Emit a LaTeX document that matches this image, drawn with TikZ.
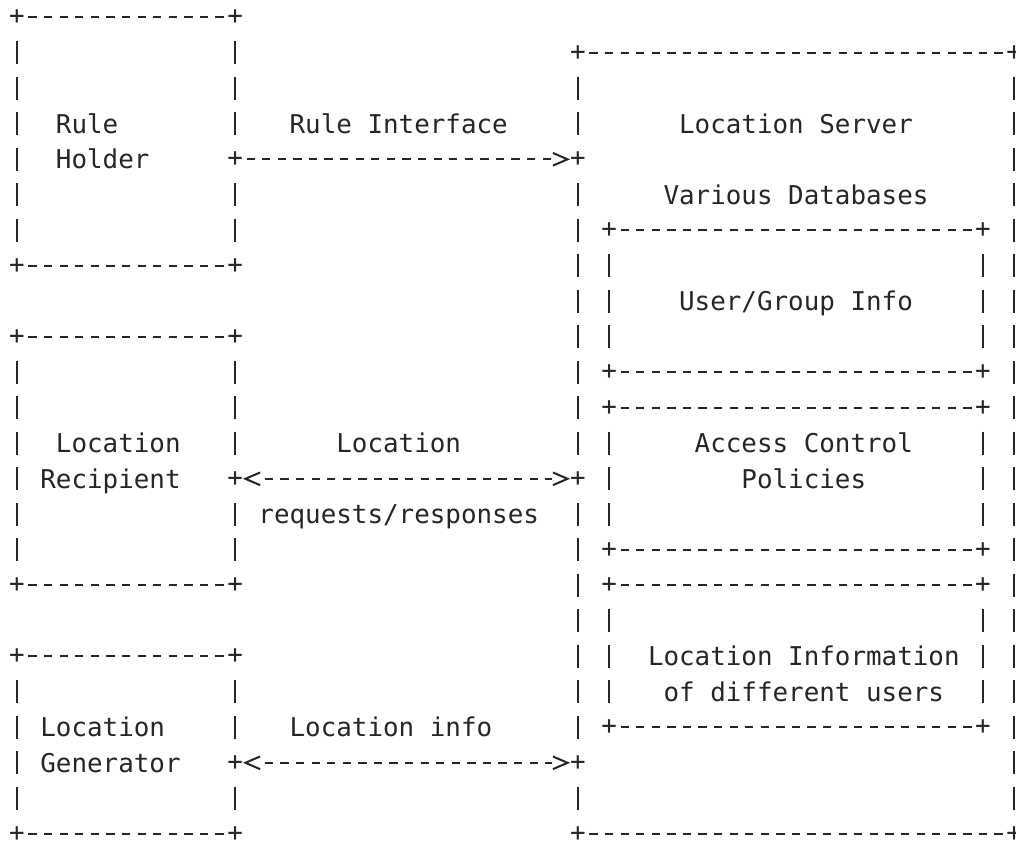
\documentclass[tikz,border=0pt]{standalone}
\usepackage{fontspec}
\newfontfamily\asciifont{DejaVu Sans Mono}
\usetikzlibrary{arrows.meta,fit}
\definecolor{ink}{HTML}{262626}

\tikzset{
  box/.style={inner sep=0pt, outer sep=0pt},
  hdash/.style={draw=ink, line width=1.5pt, dash pattern=on 6.2pt off 5.485pt, dash phase=8.93pt},
  vdash/.style={draw=ink, line width=1.7pt, dash pattern=on 17.5pt off 9.125pt, dash phase=22.06pt},
  hline/.style={hdash, shorten <=5.8425pt, shorten >=5.8425pt},
  vline/.style={vdash, shorten <=13.3125pt, shorten >=13.3125pt},
  cell/.style={fill=white, text=ink, inner sep=0pt, outer sep=0pt, minimum width=11.685pt, minimum height=26.625pt},
  lbl/.style={anchor=base west, inner sep=0pt, outer sep=0pt, yshift=-7.2pt, text=ink}
}

\begin{document}
\begin{tikzpicture}[x=11.685pt, y=-26.625pt, font=\asciifont\fontsize{19.41pt}{26.625pt}\selectfont]

\useasboundingbox (-1.091,-0.487) rectangle (64.12,23.26);

% ========================
% BOXES (corners in columns / rows)
% ========================

\node[box, fit={(0,0) (14,7)}] (holder) {};
\node[box, fit={(0,9) (14,16)}] (recipient) {};
\node[box, fit={(0,18) (14,23)}] (generator) {};

\node[box, fit={(36,1) (64,23)}] (server) {};
\node[box, fit={(38,6) (62,10)}] (users) {};
\node[box, fit={(38,11) (62,15)}] (policies) {};
\node[box, fit={(38,16) (62,20)}] (locinfo) {};

% borders
\foreach \b in {holder,recipient,generator,server,users,policies,locinfo} {
  \draw[hline] (\b.north west) -- (\b.north east);
  \draw[hline] (\b.south west) -- (\b.south east);
  \draw[vline] (\b.north west) -- (\b.south west);
  \draw[vline] (\b.north east) -- (\b.south east);
}

% corner marks
\foreach \b in {holder,recipient,generator,server,users,policies,locinfo} {
  \foreach \c/\n in {north west/nw, north east/ne, south west/sw, south east/se}
    \node[cell] (\b\n) at (\b.\c) {+};
}

% ========================
% INTERFACES
% ========================

\node[cell] (ruleL) at (14,4) {+};
\node[cell] (ruleR) at (36,4) {+};
\node[cell] (reqL) at (14,13) {+};
\node[cell] (reqR) at (36,13) {+};
\node[cell] (infoL) at (14,21) {+};
\node[cell] (infoR) at (36,21) {+};

\draw[hdash, -{. Straight Barb[length=11pt, width=9.5pt]}] (ruleL) -- (ruleR);
\draw[hdash, {Straight Barb[length=11pt, width=9.5pt] .}-{. Straight Barb[length=11pt, width=9.5pt]}] (reqL) -- (reqR);
\draw[hdash, {Straight Barb[length=11pt, width=9.5pt] .}-{. Straight Barb[length=11pt, width=9.5pt]}] (infoL) -- (infoR);

\node[lbl] (lblRuleIf) at (17.5,3) {Rule Interface};
\node[lbl] (lblReq) at (20.5,12) {Location};
\node[lbl] (lblResp) at (15.5,14) {requests/responses};
\node[lbl] (lblInfo) at (17.5,20) {Location info};

% ========================
% LEFT SIDE LABELS
% ========================

\node[lbl] (lblRule) at (2.5,3) {Rule};
\node[lbl] (lblHolder) at (2.5,4) {Holder};

\node[lbl] (lblRecLoc) at (2.5,12) {Location};
\node[lbl] (lblRecip) at (1.5,13) {Recipient};

\node[lbl] (lblGenLoc) at (1.5,20) {Location};
\node[lbl] (lblGen) at (1.5,21) {Generator};

% ========================
% SERVER LABELS
% ========================

\node[lbl] (lblServer) at (42.5,3) {Location Server};
\node[lbl] (lblDb) at (41.5,5) {Various Databases};

\node[lbl] (lblUsers) at (42.5,8) {User/Group Info};

\node[lbl] (lblAccess) at (43.5,12) {Access Control};
\node[lbl] (lblPolicies) at (46.5,13) {Policies};

\node[lbl] (lblLocInfo) at (40.5,18) {Location Information};
\node[lbl] (lblUsersLoc) at (41.5,19) {of different users};

\end{tikzpicture}
\end{document}
